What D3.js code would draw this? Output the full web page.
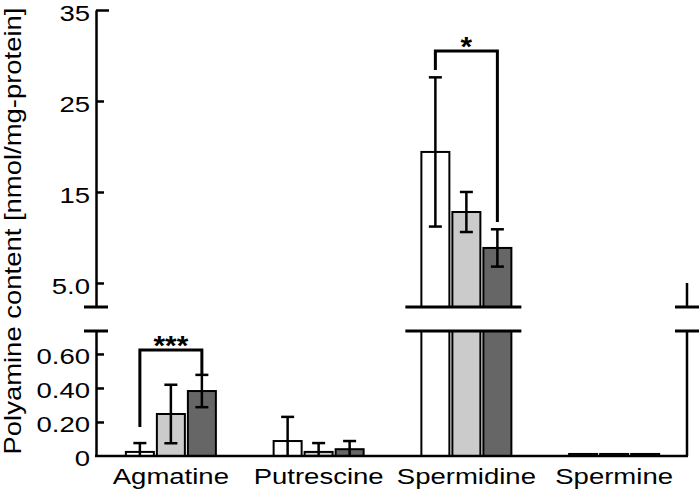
<!DOCTYPE html>
<html>
<head>
<meta charset="utf-8">
<script src="https://cdn.jsdelivr.net/npm/d3@7"></script>
<style>
  body { margin: 0; background: #ffffff; }
  svg { display: block; }
  text { font-family: "Liberation Sans", Arial, Helvetica, sans-serif; fill: #000; }
</style>
</head>
<body>
<script>
// ---------------- data ----------------
const categories = ["Agmatine", "Putrescine", "Spermidine", "Spermine"];

const meanWhite = [0.024, 0.088, 19.4, 0.012];
const sdWhite   = [0.052, 0.142, 8.2, 0];
const meanLight = [0.247, 0.024, 12.8, 0.012];
const sdLight   = [0.172, 0.052, 2.2, 0];
const meanDark  = [0.382, 0.040, 8.85, 0.012];
const sdDark    = [0.095, 0.048, 2.05, 0];

const seriesColors = ["#ffffff", "#cbcbcb", "#666666"];

const topTicks = [5, 15, 25, 35];
const bottomTicks = [0, 0.2, 0.4, 0.6];
const topDomain = [2.36, 35];
const bottomDomain = [0, 0.735];

// significance brackets
const sigCategory = ["Agmatine", "Spermidine"];
const sigLabel    = ["***", "*"];
const sigFrom     = [0, 0];
const sigTo       = [2, 2];
const sigLevel    = [0.624, 30.5];
const sigLeftEnd  = [0.17, 28.4];
const sigRightEnd = [0.476, 11.7];

const yTitle = "Polyamine content [nmol/mg-protein]";

// ---------------- layout ----------------
const W = 700, H = 495;
const axisLeftX = 96, axisRightX = 687;
const SX = 1.25; // horizontal text stretch of the reference
const barW = 28, barStep = 31;

const svg = d3.select("body").append("svg").attr("width", W).attr("height", H);

const x = d3.scaleBand().domain(categories).range([97, 688]).paddingInner(0).paddingOuter(0);
const topY = d3.scaleLinear().domain(topDomain).range([307, 10]);
const botY = d3.scaleLinear().domain(bottomDomain).range([456, 331]);
const botMax = bottomDomain[1];

function stretch(sel, k) {
  sel.each(function () {
    const w = this.getComputedTextLength();
    this.setAttribute("textLength", w * (k || SX));
    this.setAttribute("lengthAdjust", "spacingAndGlyphs");
  });
}

const series = [
  { mean: meanWhite, sd: sdWhite, fill: seriesColors[0] },
  { mean: meanLight, sd: sdLight, fill: seriesColors[1] },
  { mean: meanDark,  sd: sdDark,  fill: seriesColors[2] }
];

const barData = [];
series.forEach((s, i) => {
  categories.forEach((c, j) => {
    barData.push({ cat: c, i, v: s.mean[j], sd: s.sd[j], fill: s.fill,
      cx: x(c) + x.bandwidth() / 2 + (i - 1) * barStep });
  });
});

// ---------------- bars ----------------
const gBars = svg.append("g");
barData.forEach(d => {
  if (d.v > botMax) {
    gBars.append("rect")
      .attr("x", d.cx - barW / 2).attr("width", barW)
      .attr("y", botY(botMax)).attr("height", botY(0) - botY(botMax))
      .attr("fill", d.fill).attr("stroke", "#000").attr("stroke-width", 2);
    gBars.append("rect")
      .attr("x", d.cx - barW / 2).attr("width", barW)
      .attr("y", topY(d.v)).attr("height", topY(topDomain[0]) - topY(d.v))
      .attr("fill", d.fill).attr("stroke", "#000").attr("stroke-width", 2);
  } else {
    gBars.append("rect")
      .attr("x", d.cx - barW / 2).attr("width", barW)
      .attr("y", botY(d.v)).attr("height", botY(0) - botY(d.v))
      .attr("fill", d.fill).attr("stroke", "#000").attr("stroke-width", 2);
  }
});

// ---------------- error bars ----------------
const gErr = svg.append("g").attr("stroke", "#000").attr("stroke-width", 2.5);
const capHalf = 6.5;
barData.forEach(d => {
  if (!d.sd) return;
  const y = d.v > botMax ? topY : botY;
  const hi = d.v + d.sd;
  const loRaw = d.v - d.sd;
  const lo = Math.max(0, loRaw);
  gErr.append("line").attr("x1", d.cx).attr("x2", d.cx).attr("y1", y(hi)).attr("y2", y(lo));
  gErr.append("line").attr("x1", d.cx - capHalf).attr("x2", d.cx + capHalf).attr("y1", y(hi)).attr("y2", y(hi));
  if (loRaw > 0) {
    gErr.append("line").attr("x1", d.cx - capHalf).attr("x2", d.cx + capHalf).attr("y1", y(lo)).attr("y2", y(lo));
  }
});

// ---------------- break marks on broken bars ----------------
const gBreak = svg.append("g").attr("stroke", "#000").attr("stroke-width", 3);
categories.forEach((c, j) => {
  const broken = series.some(s => s.mean[j] > botMax);
  if (!broken) return;
  const cx = x(c) + x.bandwidth() / 2;
  [topY(topDomain[0]), botY(botMax)].forEach(yy => {
    gBreak.append("line").attr("x1", cx - 61).attr("x2", cx + 55).attr("y1", yy).attr("y2", yy);
  });
});

// ---------------- axes ----------------
function styleAxis(g) {
  g.selectAll(".domain").attr("stroke", "#000").attr("stroke-width", 2.5);
  g.selectAll(".tick line").attr("stroke", "#000").attr("stroke-width", 2.5);
  g.selectAll(".tick text").attr("font-size", 22).attr("font-family", null);
}

const gTopAxis = svg.append("g").attr("transform", `translate(${axisLeftX},0)`)
  .call(d3.axisLeft(topY).tickValues(topTicks)
    .tickFormat(d => d === 5 ? "5.0" : d3.format("d")(d))
    .tickSize(-8).tickSizeOuter(0).tickPadding(6));
styleAxis(gTopAxis);
gTopAxis.selectAll(".tick").filter(d => d === 35).select("line").attr("x2", 13);
gTopAxis.selectAll(".tick text").attr("dy", "0.47em").call(stretch);

const gBotAxis = svg.append("g").attr("transform", `translate(${axisLeftX},0)`)
  .call(d3.axisLeft(botY).tickValues(bottomTicks)
    .tickFormat(d => d === 0 ? "0" : d3.format(".2f")(d))
    .tickSize(-8).tickSizeOuter(0).tickPadding(6));
styleAxis(gBotAxis);
gBotAxis.selectAll(".tick").filter(d => d === 0).select("line").remove();
gBotAxis.selectAll(".tick text").attr("dy", "0.43em").call(stretch);

// right axis pieces
const gRight = svg.append("g").attr("stroke", "#000").attr("stroke-width", 2.5);
gRight.append("line").attr("x1", axisRightX).attr("x2", axisRightX)
  .attr("y1", botY(botMax)).attr("y2", botY(0));
gRight.append("line").attr("x1", axisRightX).attr("x2", axisRightX)
  .attr("y1", topY(5)).attr("y2", topY(topDomain[0]));

// break caps on both axes
const gCaps = svg.append("g").attr("stroke", "#000").attr("stroke-width", 3);
[axisLeftX, axisRightX].forEach(ax => {
  [topY(topDomain[0]), botY(botMax)].forEach(yy => {
    gCaps.append("line").attr("x1", ax - 12).attr("x2", ax + 12).attr("y1", yy).attr("y2", yy);
  });
});

// x axis
const gX = svg.append("g").attr("transform", `translate(0,${botY(0)})`)
  .call(d3.axisBottom(x).tickSize(0).tickPadding(12));
gX.select(".domain").remove();
gX.selectAll(".tick text").attr("font-size", 22).attr("font-family", null).call(stretch);
svg.append("line").attr("x1", axisLeftX - 1).attr("x2", axisRightX + 1)
  .attr("y1", botY(0)).attr("y2", botY(0))
  .attr("stroke", "#000").attr("stroke-width", 2.5);

// ---------------- significance brackets ----------------
const gSig = svg.append("g");
sigCategory.forEach((c, k) => {
  const y = series[sigFrom[k]].mean[categories.indexOf(c)] > botMax ? topY : botY;
  const xL = x(c) + x.bandwidth() / 2 + (sigFrom[k] - 1) * barStep;
  const xR = x(c) + x.bandwidth() / 2 + (sigTo[k] - 1) * barStep;
  gSig.append("path")
    .attr("d", `M${xL},${y(sigLeftEnd[k])}V${y(sigLevel[k])}H${xR}V${y(sigRightEnd[k])}`)
    .attr("fill", "none").attr("stroke", "#000").attr("stroke-width", 3);
  gSig.append("text")
    .attr("x", (xL + xR) / 2).attr("y", y(sigLevel[k]) + 5)
    .attr("text-anchor", "middle").attr("font-size", 27).attr("font-weight", "bold")
    .text(sigLabel[k]).call(stretch, 1.1);
});

// ---------------- y title ----------------
svg.append("text")
  .attr("transform", `translate(21,${(10 + 456) / 2 - 2}) rotate(-90)`)
  .attr("text-anchor", "middle").attr("font-size", 24)
  .attr("textLength", 447).attr("lengthAdjust", "spacingAndGlyphs")
  .text(yTitle);
</script>
</body>
</html>
